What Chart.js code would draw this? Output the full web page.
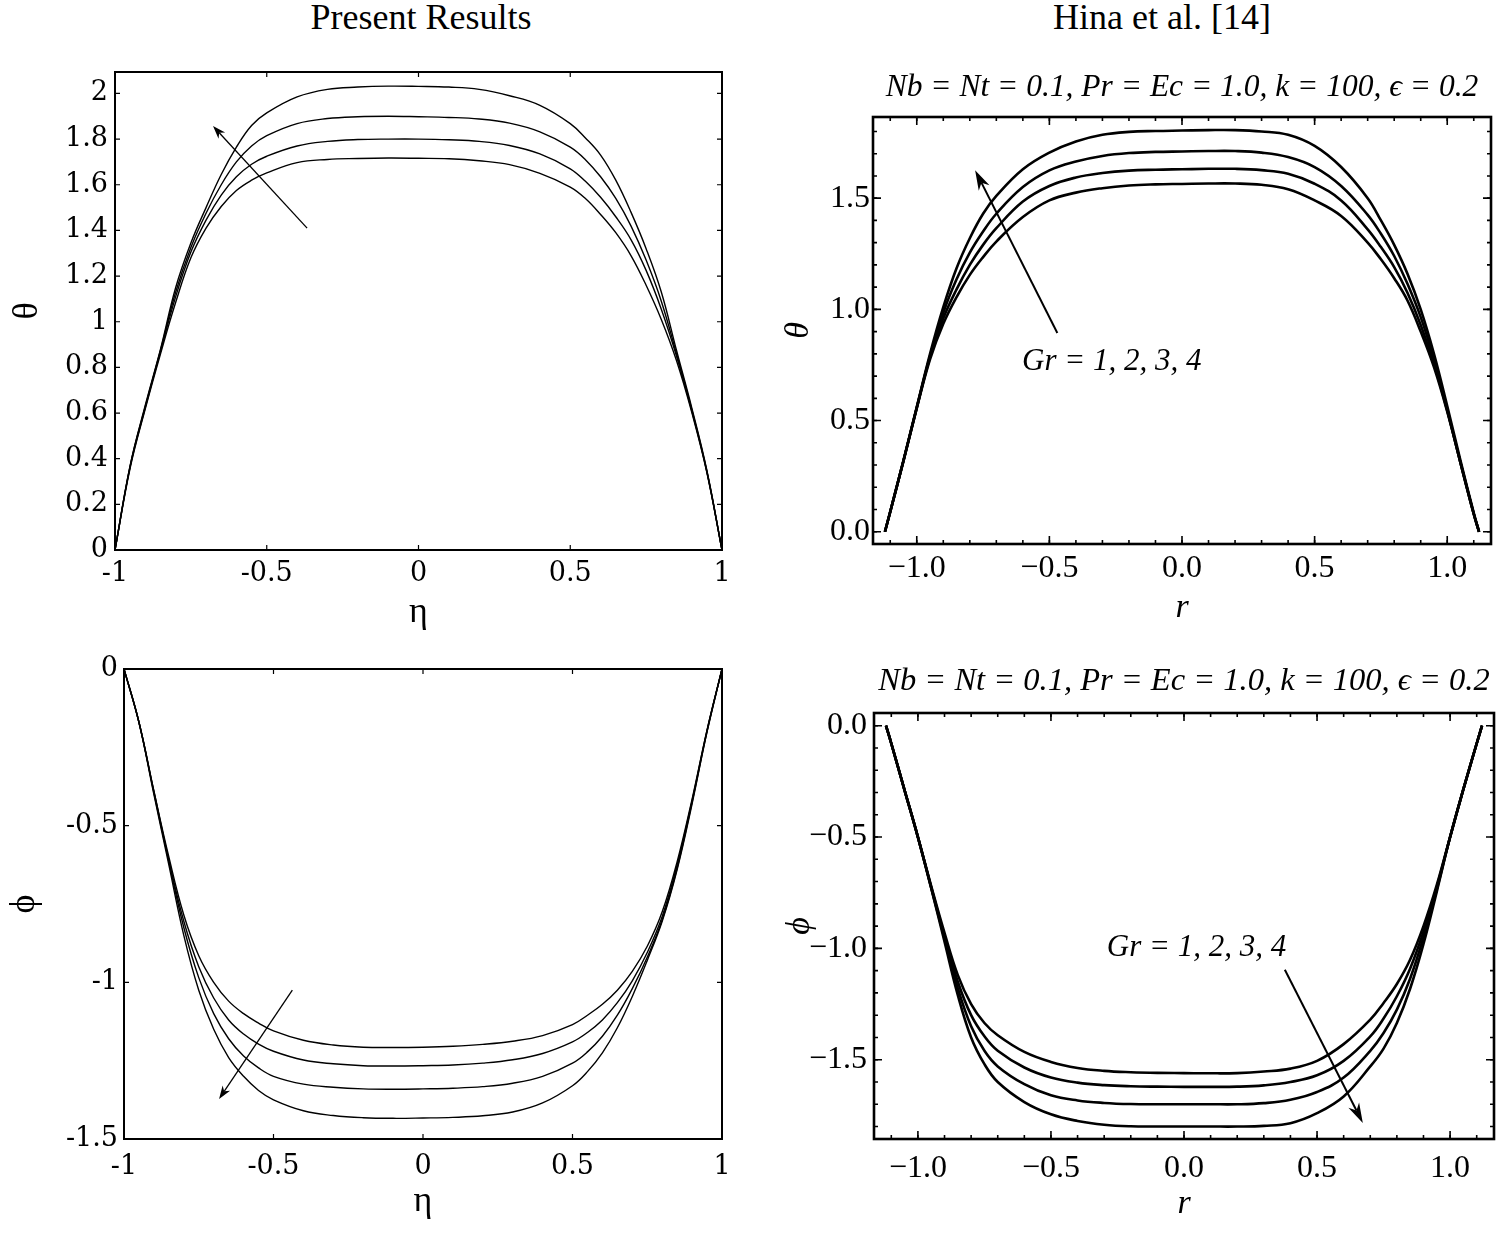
<!DOCTYPE html>
<html>
<head>
<meta charset="utf-8">
<title>Temperature and concentration profiles</title>
<script src="https://cdn.jsdelivr.net/npm/chart.js@4.4.1/dist/chart.umd.min.js"></script>
<style>
  body { margin: 0; background: #fff; width: 1497px; height: 1237px; position: relative; overflow: hidden; }
  canvas { position: absolute; }
  .head { position: absolute; top: -1px; width: 400px; text-align: center; font: 36px/36px "Liberation Serif", serif; color: #000; }
</style>
</head>
<body>
<div class="head" style="left:221px">Present Results</div>
<div class="head" style="left:962px">Hina et al. [14]</div>
<canvas id="thetaLeft" width="760" height="600" style="left:0;top:40px;width:760px;height:600px"></canvas>
<canvas id="thetaRight" width="727" height="600" style="left:770px;top:40px;width:727px;height:600px"></canvas>
<canvas id="phiLeft" width="760" height="597" style="left:0;top:640px;width:760px;height:597px"></canvas>
<canvas id="phiRight" width="727" height="597" style="left:770px;top:640px;width:727px;height:597px"></canvas>
<script>
// curve labels (same four cases in every panel)
const grLabels = ['Gr = 1', 'Gr = 2', 'Gr = 3', 'Gr = 4'];

// present results: x = eta
const etaVals = [-1, -0.95, -0.9, -0.85, -0.8, -0.75, -0.7, -0.65, -0.6, -0.55, -0.5, -0.4, -0.3, -0.2, -0.1, 0,
  0.1, 0.2, 0.3, 0.4, 0.5, 0.55, 0.6, 0.65, 0.7, 0.75, 0.8, 0.85, 0.9, 0.95, 1];

const thetaPresent1 = [0, 0.36, 0.62, 0.86, 1.085, 1.28, 1.41, 1.505, 1.575, 1.62, 1.652, 1.697, 1.711, 1.715, 1.717, 1.716,
  1.714, 1.705, 1.688, 1.65, 1.59, 1.54, 1.47, 1.39, 1.29, 1.16, 1.01, 0.83, 0.605, 0.34, 0];
const thetaPresent2 = [0, 0.365, 0.625, 0.87, 1.11, 1.305, 1.445, 1.555, 1.635, 1.69, 1.725, 1.77, 1.79, 1.798, 1.80, 1.80,
  1.797, 1.79, 1.772, 1.735, 1.67, 1.615, 1.545, 1.46, 1.36, 1.225, 1.055, 0.85, 0.612, 0.343, 0];
const thetaPresent3 = [0, 0.37, 0.63, 0.875, 1.13, 1.325, 1.475, 1.60, 1.70, 1.77, 1.815, 1.868, 1.89, 1.898, 1.90, 1.898,
  1.895, 1.888, 1.87, 1.832, 1.765, 1.71, 1.635, 1.54, 1.42, 1.27, 1.09, 0.86, 0.618, 0.346, 0];
const thetaPresent4 = [0, 0.37, 0.635, 0.88, 1.15, 1.345, 1.50, 1.645, 1.765, 1.86, 1.915, 1.985, 2.018, 2.028, 2.032, 2.031,
  2.028, 2.018, 1.99, 1.948, 1.868, 1.805, 1.73, 1.62, 1.48, 1.32, 1.13, 0.875, 0.625, 0.35, 0];

const phiPresent1 = [0, -0.17, -0.39, -0.60, -0.785, -0.915, -1.00, -1.06, -1.10, -1.13, -1.155, -1.185, -1.20, -1.207, -1.208, -1.207,
  -1.204, -1.198, -1.188, -1.17, -1.135, -1.105, -1.07, -1.025, -0.965, -0.885, -0.775, -0.615, -0.415, -0.195, 0];
const phiPresent2 = [0, -0.17, -0.39, -0.61, -0.805, -0.95, -1.05, -1.12, -1.165, -1.197, -1.22, -1.248, -1.26, -1.266, -1.267, -1.266,
  -1.264, -1.258, -1.247, -1.227, -1.19, -1.16, -1.12, -1.065, -0.995, -0.905, -0.79, -0.625, -0.42, -0.195, 0];
const phiPresent3 = [0, -0.17, -0.395, -0.615, -0.825, -0.985, -1.10, -1.18, -1.235, -1.273, -1.30, -1.325, -1.335, -1.34, -1.341, -1.34,
  -1.338, -1.333, -1.322, -1.30, -1.258, -1.222, -1.172, -1.105, -1.02, -0.92, -0.80, -0.635, -0.425, -0.20, 0];
const phiPresent4 = [0, -0.17, -0.40, -0.625, -0.85, -1.025, -1.15, -1.24, -1.30, -1.345, -1.375, -1.41, -1.425, -1.432, -1.434, -1.433,
  -1.431, -1.426, -1.414, -1.385, -1.33, -1.285, -1.225, -1.145, -1.045, -0.93, -0.805, -0.64, -0.43, -0.20, 0];

// Hina et al.: x = r
const rVals = [-1.12, -1.1, -1.05, -1.0, -0.95, -0.9, -0.85, -0.8, -0.75, -0.7, -0.6, -0.5, -0.4, -0.3, -0.2, -0.1, 0,
  0.1, 0.2, 0.3, 0.4, 0.5, 0.6, 0.7, 0.75, 0.8, 0.85, 0.9, 0.95, 1.0, 1.05, 1.1, 1.12];

const thetaHina1 = [0, 0.09, 0.32, 0.555, 0.775, 0.935, 1.055, 1.155, 1.235, 1.305, 1.415, 1.49, 1.525, 1.545, 1.557, 1.562, 1.564,
  1.566, 1.566, 1.56, 1.54, 1.49, 1.42, 1.30, 1.225, 1.14, 1.04, 0.90, 0.74, 0.54, 0.31, 0.08, 0];
const thetaHina2 = [0, 0.09, 0.32, 0.557, 0.785, 0.96, 1.09, 1.20, 1.29, 1.365, 1.485, 1.555, 1.593, 1.613, 1.624, 1.628, 1.63,
  1.632, 1.632, 1.626, 1.61, 1.565, 1.49, 1.36, 1.28, 1.19, 1.075, 0.93, 0.755, 0.545, 0.31, 0.08, 0];
const thetaHina3 = [0, 0.09, 0.32, 0.56, 0.79, 0.985, 1.135, 1.255, 1.35, 1.43, 1.55, 1.625, 1.665, 1.69, 1.703, 1.708, 1.71,
  1.712, 1.712, 1.705, 1.685, 1.64, 1.555, 1.425, 1.34, 1.24, 1.115, 0.965, 0.775, 0.55, 0.31, 0.08, 0];
const thetaHina4 = [0, 0.09, 0.32, 0.56, 0.80, 1.01, 1.185, 1.32, 1.43, 1.51, 1.63, 1.705, 1.755, 1.785, 1.798, 1.802, 1.804,
  1.806, 1.806, 1.80, 1.785, 1.735, 1.64, 1.50, 1.40, 1.29, 1.16, 1.00, 0.80, 0.565, 0.32, 0.085, 0];

const phiHina1 = [0, -0.08, -0.29, -0.50, -0.72, -0.93, -1.12, -1.25, -1.335, -1.39, -1.465, -1.51, -1.537, -1.55, -1.556, -1.559, -1.56,
  -1.561, -1.56, -1.553, -1.54, -1.505, -1.43, -1.32, -1.245, -1.16, -1.05, -0.90, -0.715, -0.50, -0.285, -0.08, 0];
const phiHina2 = [0, -0.08, -0.29, -0.50, -0.725, -0.945, -1.15, -1.30, -1.395, -1.46, -1.535, -1.58, -1.603, -1.614, -1.619, -1.621, -1.622,
  -1.622, -1.621, -1.615, -1.60, -1.57, -1.505, -1.395, -1.315, -1.215, -1.09, -0.925, -0.725, -0.50, -0.285, -0.08, 0];
const phiHina3 = [0, -0.08, -0.29, -0.50, -0.728, -0.955, -1.18, -1.35, -1.46, -1.53, -1.61, -1.66, -1.683, -1.694, -1.699, -1.70, -1.70,
  -1.70, -1.70, -1.695, -1.68, -1.645, -1.58, -1.46, -1.38, -1.275, -1.135, -0.95, -0.735, -0.50, -0.285, -0.08, 0];
const phiHina4 = [0, -0.08, -0.29, -0.50, -0.73, -0.97, -1.21, -1.40, -1.52, -1.60, -1.69, -1.745, -1.775, -1.792, -1.799, -1.80, -1.80,
  -1.80, -1.80, -1.797, -1.785, -1.74, -1.665, -1.53, -1.45, -1.335, -1.18, -0.98, -0.745, -0.50, -0.285, -0.08, 0];

// tick labels
const etaTicks = ['-1', '-0.5', '0', '0.5', '1'];
const thetaPresentTicks = ['0', '0.2', '0.4', '0.6', '0.8', '1', '1.2', '1.4', '1.6', '1.8', '2'];
const phiPresentTicks = ['-1.5', '-1', '-0.5', '0'];
const rTicks = ['\u22121.0', '\u22120.5', '0.0', '0.5', '1.0'];
const thetaHinaTicks = ['0.0', '0.5', '1.0', '1.5'];
const phiHinaTicks = ['\u22121.5', '\u22121.0', '\u22120.5', '0.0'];

const num = s => parseFloat(s.replace('\u2212', '-'));

Chart.defaults.font.family = '"Liberation Serif", serif';
Chart.defaults.color = '#000';

// box, inward ticks on all four sides, arrow and the Gr note
const frame = {
  id: 'frame',
  afterDatasetsDraw(chart, args, o) {
    const {ctx, chartArea: a, scales: {x, y}} = chart;
    ctx.save();
    ctx.strokeStyle = '#000';
    ctx.fillStyle = '#000';
    ctx.lineWidth = o.tickWidth;
    const tickX = (v, len) => {
      const p = x.getPixelForValue(v);
      ctx.beginPath();
      ctx.moveTo(p, a.bottom); ctx.lineTo(p, a.bottom - len);
      ctx.moveTo(p, a.top); ctx.lineTo(p, a.top + len);
      ctx.stroke();
    };
    const tickY = (v, len) => {
      const p = y.getPixelForValue(v);
      ctx.beginPath();
      ctx.moveTo(a.left, p); ctx.lineTo(a.left + len, p);
      ctx.moveTo(a.right, p); ctx.lineTo(a.right - len, p);
      ctx.stroke();
    };
    if (o.minor) {
      for (let i = Math.ceil(x.min / o.minor - 1e-6); i * o.minor <= x.max + 1e-9; i++) tickX(i * o.minor, o.minorLen);
      for (let i = Math.ceil(y.min / o.minor - 1e-6); i * o.minor <= y.max + 1e-9; i++) tickY(i * o.minor, o.minorLen);
    }
    x.ticks.forEach(t => tickX(t.value, o.majorLen));
    y.ticks.forEach(t => tickY(t.value, o.majorLen));
    ctx.lineWidth = o.border;
    ctx.strokeRect(a.left, a.top, a.right - a.left, a.bottom - a.top);

    if (o.arrow) {
      const ar = o.arrow;
      const x0 = x.getPixelForValue(ar.from[0]), y0 = y.getPixelForValue(ar.from[1]);
      const x1 = x.getPixelForValue(ar.to[0]), y1 = y.getPixelForValue(ar.to[1]);
      const ang = Math.atan2(y1 - y0, x1 - x0);
      const c = Math.cos(ang), s = Math.sin(ang);
      const L = ar.head, W = ar.width / 2;
      const bx = x1 - L * c, by = y1 - L * s;
      ctx.lineWidth = ar.lw;
      ctx.beginPath();
      ctx.moveTo(x0, y0);
      ctx.lineTo(x1 - 0.7 * L * c, y1 - 0.7 * L * s);
      ctx.stroke();
      ctx.beginPath();
      ctx.moveTo(x1, y1);
      ctx.lineTo(bx + W * s, by - W * c);
      ctx.lineTo(x1 - 0.7 * L * c, y1 - 0.7 * L * s);
      ctx.lineTo(bx - W * s, by + W * c);
      ctx.closePath();
      ctx.fill();
    }
    if (o.note) {
      ctx.font = o.note.font;
      ctx.textAlign = 'left';
      ctx.textBaseline = 'middle';
      ctx.fillText(o.note.text, x.getPixelForValue(o.note.at[0]), y.getPixelForValue(o.note.at[1]));
    }
    ctx.restore();
  }
};
Chart.register(frame);

function panel(id, p) {
  const series = p.series;
  return new Chart(document.getElementById(id), {
    type: 'line',
    data: {
      datasets: series.map((s, i) => ({
        label: grLabels[i],
        data: p.xs.map((v, j) => ({x: v, y: s[j]})),
        borderColor: '#000',
        borderWidth: p.lw,
        pointRadius: 0,
        fill: false,
        tension: 0.4
      }))
    },
    options: {
      responsive: false,
      animation: false,
      events: [],
      layout: {padding: p.pad},
      plugins: {
        legend: {display: false},
        tooltip: {enabled: false},
        title: p.title ? {
          display: true, text: p.title, fullSize: false, color: '#000',
          font: {style: 'italic', weight: 'normal', size: p.titleSize, lineHeight: 1},
          padding: p.titlePad
        } : {display: false},
        frame: p.frame
      },
      scales: {
        x: {
          type: 'linear', min: p.xMin, max: p.xMax,
          afterBuildTicks: sc => { sc.ticks = p.xTicks.map(t => ({value: num(t)})); },
          afterFit: sc => { sc.height = p.xH; },
          grid: {display: false, drawTicks: false},
          border: {display: false},
          ticks: {autoSkip: false, maxRotation: 0, padding: p.xTickPad, font: p.tickFont,
            callback: (v, i) => p.xTicks[i]},
          title: {display: true, text: p.xTitle, font: p.axisFont, padding: {top: 0, bottom: p.xTitlePad}}
        },
        y: {
          type: 'linear', min: p.yMin, max: p.yMax,
          afterBuildTicks: sc => { sc.ticks = p.yTicks.map(t => ({value: num(t)})); },
          afterFit: sc => { sc.width = p.yW; },
          grid: {display: false, drawTicks: false},
          border: {display: false},
          ticks: {autoSkip: false, padding: p.yTickPad, font: p.tickFont,
            callback: (v, i) => p.yTicks[i]},
          title: {display: true, text: p.yTitle, font: p.axisFont, padding: {top: p.yTitlePad, bottom: 0}}
        }
      }
    }
  });
}

const leftTickFont = {family: '"DejaVu Serif", serif', size: 27, lineHeight: 1};
const leftAxisFont = {family: '"Liberation Serif", serif', size: 36, lineHeight: 1};
const rightTickFont = {family: '"Liberation Serif", serif', size: 32, lineHeight: 1};
const rightAxisFont = {family: '"Liberation Serif", serif', style: 'italic', size: 34, lineHeight: 1};
const leftFrame = {tickWidth: 1.2, majorLen: 5, border: 2};
const rightFrame = {tickWidth: 1.6, majorLen: 8, minor: 0.1, minorLen: 4, border: 2.6};
const subTitle = 'Nb = Nt = 0.1, Pr = Ec = 1.0, k = 100, \u03f5 = 0.2';

panel('thetaLeft', {
  xs: etaVals, series: [thetaPresent1, thetaPresent2, thetaPresent3, thetaPresent4], lw: 1.4,
  pad: {top: 32, left: 0, right: 38, bottom: 0},
  xMin: -1, xMax: 1, yMin: 0, yMax: 2.094, xTicks: etaTicks, yTicks: thetaPresentTicks,
  xH: 90, yW: 115, xTickPad: 10, yTickPad: 7, tickFont: leftTickFont, axisFont: leftAxisFont,
  xTitle: '\u03b7', yTitle: '\u03b8', xTitlePad: 9, yTitlePad: 10,
  frame: Object.assign({arrow: {from: [-0.367, 1.41], to: [-0.677, 1.857], head: 13, width: 9, lw: 1.3}}, leftFrame)
});

panel('thetaRight', {
  xs: rVals, series: [thetaHina1, thetaHina2, thetaHina3, thetaHina4], lw: 2.6,
  pad: {top: 0, left: 0, right: 6, bottom: 0},
  title: subTitle, titleSize: 31.5, titlePad: {top: 32, bottom: 13.5},
  xMin: -1.165, xMax: 1.165, yMin: -0.055, yMax: 1.865, xTicks: rTicks, yTicks: thetaHinaTicks,
  xH: 96, yW: 103, xTickPad: 9, yTickPad: 3, tickFont: rightTickFont, axisFont: rightAxisFont,
  xTitle: 'r', yTitle: '\u03b8', xTitlePad: 15, yTitlePad: 12,
  frame: Object.assign({
    arrow: {from: [-0.47, 0.894], to: [-0.78, 1.626], head: 20, width: 12, lw: 2},
    note: {text: 'Gr = 1, 2, 3, 4', at: [-0.603, 0.763], font: 'italic 31px "Liberation Serif"'}
  }, rightFrame)
});

panel('phiLeft', {
  xs: etaVals, series: [phiPresent1, phiPresent2, phiPresent3, phiPresent4], lw: 1.4,
  pad: {top: 29, left: 0, right: 38, bottom: 0},
  xMin: -1, xMax: 1, yMin: -1.5, yMax: 0, xTicks: etaTicks, yTicks: phiPresentTicks,
  xH: 98, yW: 124, xTickPad: 14, yTickPad: 6, tickFont: leftTickFont, axisFont: leftAxisFont,
  xTitle: '\u03b7', yTitle: '\u03d5', xTitlePad: 17, yTitlePad: 7,
  frame: Object.assign({arrow: {from: [-0.437, -1.025], to: [-0.682, -1.372], head: 13, width: 9, lw: 1.3}}, leftFrame)
});

panel('phiRight', {
  xs: rVals, series: [phiHina1, phiHina2, phiHina3, phiHina4], lw: 2.6,
  pad: {top: 0, left: 0, right: 3, bottom: 0},
  title: subTitle, titleSize: 32.5, titlePad: {top: 25.5, bottom: 15},
  xMin: -1.165, xMax: 1.165, yMin: -1.856, yMax: 0.057, xTicks: rTicks, yTicks: phiHinaTicks,
  xH: 98, yW: 104, xTickPad: 14, yTickPad: 7, tickFont: rightTickFont, axisFont: rightAxisFont,
  xTitle: 'r', yTitle: '\u03d5', xTitlePad: 16, yTitlePad: 13,
  frame: Object.assign({
    arrow: {from: [0.379, -1.096], to: [0.672, -1.784], head: 20, width: 12, lw: 2},
    note: {text: 'Gr = 1, 2, 3, 4', at: [-0.29, -0.997], font: 'italic 31px "Liberation Serif"'}
  }, rightFrame)
});
</script>
</body>
</html>
